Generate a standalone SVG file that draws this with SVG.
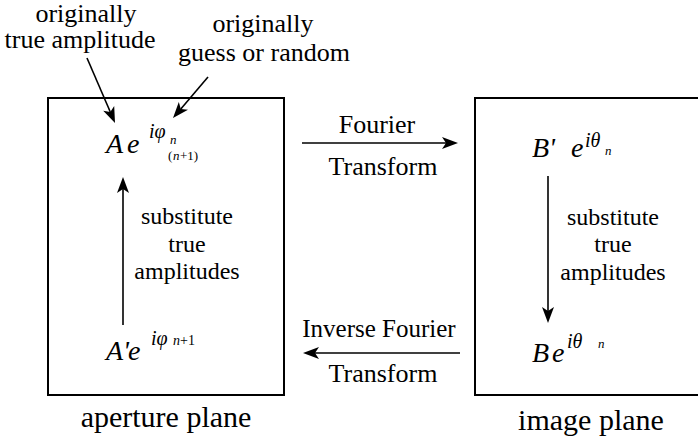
<svg xmlns="http://www.w3.org/2000/svg" width="698" height="444" viewBox="0 0 698 444">
<rect width="698" height="444" fill="#fff"/>
<g id="aperture">
<rect x="48" y="98" width="236" height="297" fill="none" stroke="#000" stroke-width="2"/>
<text font-family="Liberation Serif" style="font-family:'Liberation Serif'" font-style="italic" font-size="28" x="106" y="153">A</text>
<text font-family="Liberation Serif" style="font-family:'Liberation Serif'" font-style="italic" font-size="28" x="127" y="153">e</text>
<text font-family="Liberation Serif" style="font-family:'Liberation Serif'" font-style="italic" font-size="20" x="149" y="138">iφ</text>
<text font-family="Liberation Serif" style="font-family:'Liberation Serif'" font-style="italic" font-size="13" x="170" y="144">n</text>
<text font-family="Liberation Serif" style="font-family:'Liberation Serif'" font-size="13" x="168" y="160">(</text>
<text font-family="Liberation Serif" style="font-family:'Liberation Serif'" font-style="italic" font-size="13" x="173" y="160">n</text>
<text font-family="Liberation Serif" style="font-family:'Liberation Serif'" font-size="13" x="180" y="160">+1)</text>
<text font-family="Liberation Serif" style="font-family:'Liberation Serif'" font-size="24" text-anchor="middle" x="187" y="224">substitute</text>
<text font-family="Liberation Serif" style="font-family:'Liberation Serif'" font-size="24" text-anchor="middle" x="187" y="252">true</text>
<text font-family="Liberation Serif" style="font-family:'Liberation Serif'" font-size="24" text-anchor="middle" x="187" y="279">amplitudes</text>
<text font-family="Liberation Serif" style="font-family:'Liberation Serif'" font-style="italic" font-size="28" x="106" y="360">A'</text>
<text font-family="Liberation Serif" style="font-family:'Liberation Serif'" font-style="italic" font-size="28" x="128" y="360">e</text>
<text font-family="Liberation Serif" style="font-family:'Liberation Serif'" font-style="italic" font-size="20" x="151" y="345">iφ</text>
<text font-family="Liberation Serif" style="font-family:'Liberation Serif'" font-style="italic" font-size="14" x="173" y="345">n</text>
<text font-family="Liberation Serif" style="font-family:'Liberation Serif'" font-size="14" x="180" y="345">+1</text>
<text font-family="Liberation Serif" style="font-family:'Liberation Serif'" font-size="30" text-anchor="middle" x="166" y="427">aperture plane</text>
</g>
<g id="image">
<path d="M710,98 H475 V395 H710" fill="none" stroke="#000" stroke-width="2"/>
<text font-family="Liberation Serif" style="font-family:'Liberation Serif'" font-style="italic" font-size="28" x="532" y="157">B'</text>
<text font-family="Liberation Serif" style="font-family:'Liberation Serif'" font-style="italic" font-size="28" x="571" y="157">e</text>
<text font-family="Liberation Serif" style="font-family:'Liberation Serif'" font-style="italic" font-size="20" x="585" y="147">iθ</text>
<text font-family="Liberation Serif" style="font-family:'Liberation Serif'" font-style="italic" font-size="13" x="605" y="155">n</text>
<text font-family="Liberation Serif" style="font-family:'Liberation Serif'" font-size="24" text-anchor="middle" x="613" y="225">substitute</text>
<text font-family="Liberation Serif" style="font-family:'Liberation Serif'" font-size="24" text-anchor="middle" x="613" y="252">true</text>
<text font-family="Liberation Serif" style="font-family:'Liberation Serif'" font-size="24" text-anchor="middle" x="613" y="280">amplitudes</text>
<text font-family="Liberation Serif" style="font-family:'Liberation Serif'" font-style="italic" font-size="28" x="532" y="362">B</text>
<text font-family="Liberation Serif" style="font-family:'Liberation Serif'" font-style="italic" font-size="28" x="552" y="362">e</text>
<text font-family="Liberation Serif" style="font-family:'Liberation Serif'" font-style="italic" font-size="20" x="567" y="348">iθ</text>
<text font-family="Liberation Serif" style="font-family:'Liberation Serif'" font-style="italic" font-size="13" x="598" y="348">n</text>
<text font-family="Liberation Serif" style="font-family:'Liberation Serif'" font-size="30" text-anchor="middle" x="591" y="430">image plane</text>
</g>
<g id="labels">
<text font-family="Liberation Serif" style="font-family:'Liberation Serif'" font-size="26" text-anchor="middle" x="86" y="22">originally</text>
<text font-family="Liberation Serif" style="font-family:'Liberation Serif'" font-size="26" text-anchor="middle" x="80" y="48">true amplitude</text>
<text font-family="Liberation Serif" style="font-family:'Liberation Serif'" font-size="26" text-anchor="middle" x="263" y="32">originally</text>
<text font-family="Liberation Serif" style="font-family:'Liberation Serif'" font-size="26" text-anchor="middle" x="264" y="61">guess or random</text>
<text font-family="Liberation Serif" style="font-family:'Liberation Serif'" font-size="26" text-anchor="middle" x="377" y="133">Fourier</text>
<text font-family="Liberation Serif" style="font-family:'Liberation Serif'" font-size="26" text-anchor="middle" x="383" y="175">Transform</text>
<text font-family="Liberation Serif" style="font-family:'Liberation Serif'" font-size="25" text-anchor="middle" x="379" y="337">Inverse Fourier</text>
<text font-family="Liberation Serif" style="font-family:'Liberation Serif'" font-size="26" text-anchor="middle" x="383" y="382">Transform</text>
</g>
<g id="connectors">
<g stroke="#000" stroke-width="1.6" fill="none">
<line x1="87" y1="58" x2="110.3" y2="112"/>
<line x1="208" y1="77" x2="180.8" y2="108.9"/>
<line x1="302" y1="143" x2="446" y2="143"/>
<line x1="460" y1="353" x2="315" y2="353"/>
<line x1="123" y1="325" x2="123" y2="189"/>
<line x1="548" y1="176" x2="548" y2="311"/>
</g>
<g fill="#000">
<path d="M115,123 L103.2,110.7 L110.3,112 L114.2,105.9 Z"/>
<path d="M173,118 L178.8,101.9 L180.8,108.9 L188,109.7 Z"/>
<path d="M458,143 L442,137 L446,143 L442,149 Z"/>
<path d="M303,353 L319,347 L315,353 L319,359 Z"/>
<path d="M123,177 L117,193 L123,189 L129,193 Z"/>
<path d="M548,323 L542,307 L548,311 L554,307 Z"/>
</g>
</g>
</svg>
